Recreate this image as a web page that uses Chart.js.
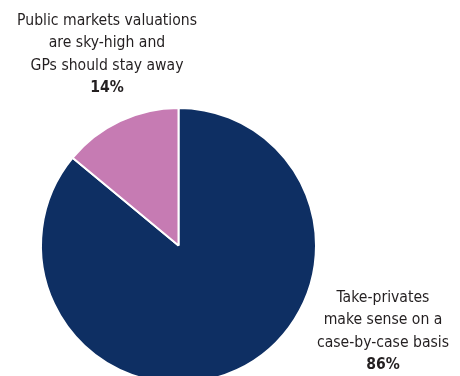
<!DOCTYPE html>
<html lang="en">
<head>
  <meta charset="UTF-8" />
  <title>Take-privates survey</title>
  <script src="https://cdn.jsdelivr.net/npm/chart.js"></script>
  <style>
    html, body { margin: 0; padding: 0; background: #fff; overflow: hidden; }
    #wrap { position: relative; width: 460px; height: 376px; overflow: hidden; }
    #pie { position: absolute; left: 0; top: 0; }
  </style>
</head>
<body>
  <div id="wrap">
    <canvas id="pie" width="460" height="392"></canvas>
  </div>

  <script>
    // survey answers, top of the pie going clockwise
    const categorias = [
      ['Take-privates', 'make sense on a', 'case-by-case basis'],
      ['Public markets valuations', 'are sky-high and', 'GPs should stay away']
    ];
    const valores = [86, 14];
    const cores = ['#0e2f63', '#c67bb3'];

    // where each label block sits (centre x, first baseline)
    const posLabels = [
      { x: 383, y: 302 },
      { x: 107, y: 25 }
    ];
    const entreLinhas = 22.3;
    const fonte = '"DejaVu Sans Condensed", "Liberation Sans Narrow", "Liberation Sans", sans-serif';

    const labelsPlugin = {
      id: 'labelsFatias',
      afterDraw(chart) {
        const ctx = chart.ctx;
        ctx.save();
        ctx.fillStyle = '#231f20';
        ctx.textAlign = 'center';
        ctx.textBaseline = 'alphabetic';
        categorias.forEach((linhas, i) => {
          const p = posLabels[i];
          ctx.font = '15.6px ' + fonte;
          linhas.forEach((txt, j) => ctx.fillText(txt, p.x, p.y + j * entreLinhas));
          ctx.font = 'bold 15.6px ' + fonte;
          ctx.fillText(valores[i] + '%', p.x, p.y + linhas.length * entreLinhas);
        });
        ctx.restore();
      }
    };

    new Chart(document.getElementById('pie'), {
      type: 'pie',
      data: {
        labels: categorias.map(l => l.join(' ')),
        datasets: [{
          data: valores,
          backgroundColor: cores,
          borderColor: '#ffffff',
          borderWidth: 2,
          hoverOffset: 0,
          offset: 0
        }]
      },
      options: {
        responsive: false,
        devicePixelRatio: 1,
        animation: false,
        layout: { padding: { left: 40, right: 143, top: 107, bottom: 8 } },
        plugins: { legend: { display: false }, tooltip: { enabled: false } }
      },
      plugins: [labelsPlugin]
    });
  </script>
</body>
</html>
